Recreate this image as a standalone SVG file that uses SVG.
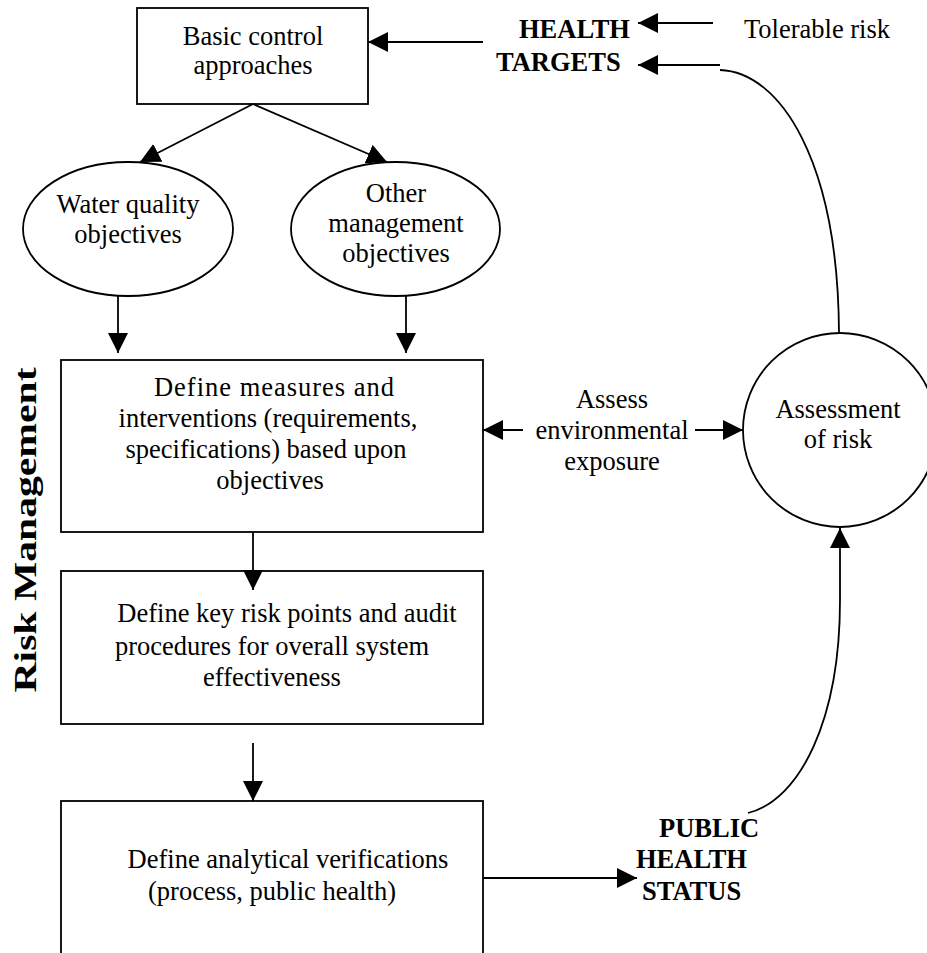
<svg xmlns="http://www.w3.org/2000/svg" width="927" height="953" viewBox="0 0 927 953">
<style>
.shape{fill:#fff;stroke:#000;stroke-width:1.8}
.t{font-family:'Liberation Serif','Times New Roman',serif;font-size:26.5px;font-weight:normal;fill:#000;text-anchor:middle}
.b{font-family:'Liberation Serif','Times New Roman',serif;font-size:26.5px;font-weight:bold;fill:#000}
.c{fill:none;stroke:#000;stroke-width:1.8}
</style>
<defs>
<marker id="ah" markerUnits="userSpaceOnUse" markerWidth="20" markerHeight="20" refX="20" refY="10" orient="auto">
<path d="M0,0 L20,10 L0,20 z" fill="#000"/>
</marker>
</defs>
<rect width="927" height="953" fill="#fff"/>

<g id="basic-control">
<rect class="shape" x="137" y="8" width="231" height="96"/>
<text class="t" x="253" y="45">Basic control</text>
<text class="t" x="253" y="74">approaches</text>
</g>

<g id="water-quality">
<ellipse class="shape" cx="128" cy="229" rx="105" ry="67"/>
<text class="t" x="128" y="213">Water quality</text>
<text class="t" x="128" y="243">objectives</text>
</g>

<g id="other-management">
<ellipse class="shape" cx="395.5" cy="229" rx="104.5" ry="67"/>
<text class="t" x="396" y="202">Other</text>
<text class="t" x="396" y="232">management</text>
<text class="t" x="396" y="262">objectives</text>
</g>

<g id="define-measures">
<rect class="shape" x="61" y="360" width="422" height="172"/>
<text class="t" x="274" y="396" textLength="240" lengthAdjust="spacing">Define measures and</text>
<text class="t" x="268" y="427">interventions (requirements,</text>
<text class="t" x="266" y="458">specifications) based upon</text>
<text class="t" x="270" y="489">objectives</text>
</g>

<g id="define-key-risk">
<rect class="shape" x="61" y="571" width="422" height="153"/>
<text class="t" x="287" y="622">Define key risk points and audit</text>
<text class="t" x="272" y="655">procedures for overall system</text>
<text class="t" x="272" y="686">effectiveness</text>
</g>

<g id="define-analytical">
<rect class="shape" x="61" y="801" width="422" height="170"/>
<text class="t" x="288" y="868">Define analytical verifications</text>
<text class="t" x="272" y="900">(process, public health)</text>
</g>

<g id="assessment-of-risk">
<circle class="shape" cx="840" cy="430" r="97"/>
<text class="t" x="838" y="418">Assessment</text>
<text class="t" x="838" y="448">of risk</text>
</g>

<g id="health-targets">
<text class="b" x="519" y="38">HEALTH</text>
<text class="b" x="496" y="71">TARGETS</text>
</g>

<g id="tolerable-risk">
<text class="t" x="817" y="38">Tolerable risk</text>
</g>

<g id="assess-exposure">
<text class="t" x="612" y="408">Assess</text>
<text class="t" x="612" y="439">environmental</text>
<text class="t" x="612" y="470">exposure</text>
</g>

<g id="public-health-status">
<text class="b" x="659" y="837">PUBLIC</text>
<text class="b" x="636" y="868">HEALTH</text>
<text class="b" x="642" y="900">STATUS</text>
</g>

<g id="risk-management-label">
<text class="b" x="0" y="0" text-anchor="middle" textLength="325" lengthAdjust="spacingAndGlyphs" transform="translate(36,530) rotate(-90)" style="font-size:32px">Risk Management</text>
</g>

<g id="connectors">
<line class="c" x1="713" y1="23" x2="638" y2="23" marker-end="url(#ah)"/>
<line class="c" x1="720" y1="65" x2="638" y2="65" marker-end="url(#ah)"/>
<line class="c" x1="483" y1="42" x2="368" y2="42" marker-end="url(#ah)"/>
<line class="c" x1="253" y1="104" x2="140" y2="162" marker-end="url(#ah)"/>
<line class="c" x1="253" y1="104" x2="387" y2="162" marker-end="url(#ah)"/>
<line class="c" x1="118" y1="295" x2="118" y2="353" marker-end="url(#ah)"/>
<line class="c" x1="406" y1="295" x2="406" y2="353" marker-end="url(#ah)"/>
<line class="c" x1="253" y1="532" x2="253" y2="590" marker-end="url(#ah)"/>
<line class="c" x1="253" y1="743" x2="253" y2="801" marker-end="url(#ah)"/>
<line class="c" x1="483" y1="878" x2="637" y2="878" marker-end="url(#ah)"/>
<line class="c" x1="523" y1="430" x2="483" y2="430" marker-end="url(#ah)"/>
<line class="c" x1="695" y1="430" x2="743" y2="430" marker-end="url(#ah)"/>
<path class="c" d="M720,70 C780,72 838,160 839,333"/>
<path class="c" d="M748,813 C800,800 840,720 840,600 L840,528" marker-end="url(#ah)"/>
</g>
</svg>
